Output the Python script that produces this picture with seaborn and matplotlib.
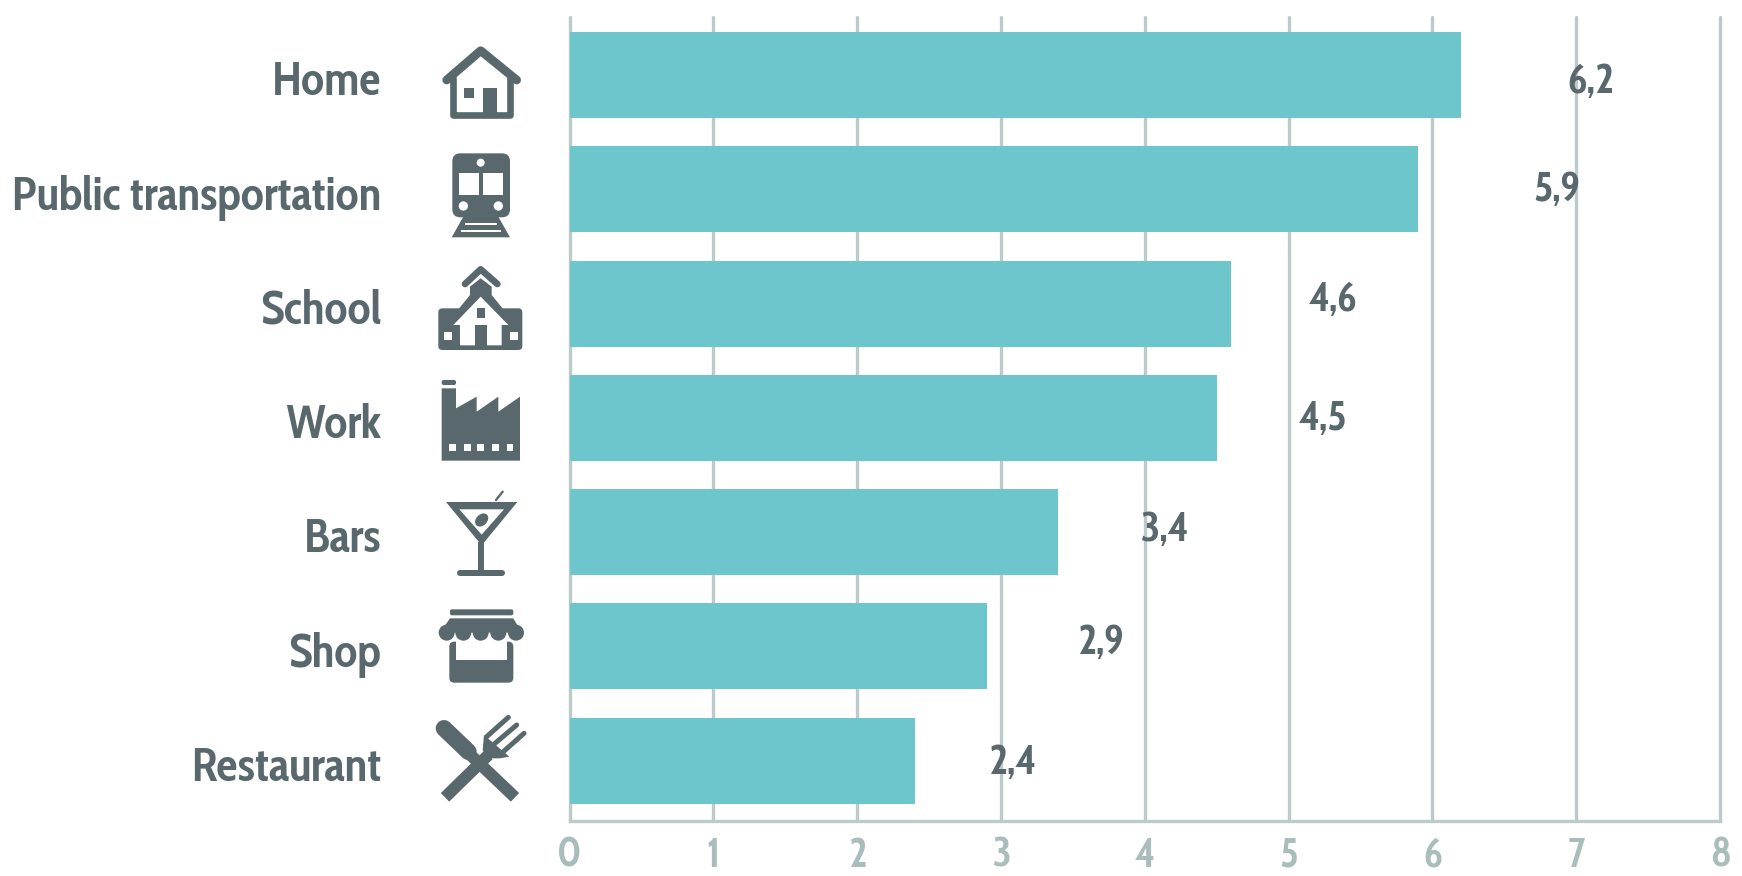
import matplotlib
matplotlib.use('Agg')
import matplotlib.pyplot as plt
from matplotlib.patches import Polygon, Circle, Ellipse, FancyBboxPatch
from matplotlib.transforms import ScaledTranslation
import seaborn as sns
import pandas as pd

places = ['Home', 'Public transportation', 'School', 'Work', 'Bars', 'Shop', 'Restaurant']
values = [6.2, 5.9, 4.6, 4.5, 3.4, 2.9, 2.4]
value_labels = ['6,2', '5,9', '4,6', '4,5', '3,4', '2,9', '2,4']
x_ticks = [0, 1, 2, 3, 4, 5, 6, 7, 8]

# value labels float loosely right of the bars in the original (pixels)
label_dx = [130, 139, 102, 106, 106, 114, 97]
label_dy = [-8, -1, 3, -2, 2, 3, -3]

W, H = 1742, 876
TEAL = '#6cc6cc'
DARK = '#59686d'
GRID = '#bccaca'
TICK = '#a9bdbd'
FONT = ['Cabin Condensed', 'Lato', 'DejaVu Sans']

sns.set_theme(style='white')
plt.rcParams['font.family'] = FONT

df = pd.DataFrame({'place': places, 'value': values})

fig = plt.figure(figsize=(W / 100, H / 100), dpi=100, facecolor='white')
ax = fig.add_axes([569.5 / W, 1 - 820.5 / H, (1720 - 569.5) / W, (820.5 - 17) / H])
ax.set_axisbelow(True)
sns.barplot(data=df, y='place', x='value', orient='h', color=TEAL, saturation=1, width=0.752,
            linewidth=0, ax=ax)

ax.set_xlim(0, 8)
ax.set_ylim(6.523, -0.507)
ax.set_xticks(x_ticks)
ax.set_xlabel('')
ax.set_ylabel('')
ax.grid(axis='x', color=GRID, lw=2.4, clip_on=False)
for s in ['top', 'right', 'left']:
    ax.spines[s].set_visible(False)
ax.spines['bottom'].set_color(GRID)
ax.spines['bottom'].set_linewidth(2.4)
ax.tick_params(axis='y', length=0, pad=135.5, labelsize=34, labelcolor=DARK)
ax.tick_params(axis='x', length=0, pad=11, labelsize=29, labelcolor=TICK)
for t in ax.get_yticklabels() + ax.get_xticklabels():
    t.set_fontweight('bold')
nudge = ScaledTranslation(0, -2 / 72, fig.dpi_scale_trans)
for t in ax.get_yticklabels():
    t.set_transform(t.get_transform() + nudge)

for i, v in enumerate(values):
    ax.annotate(value_labels[i], (v, i), xytext=(label_dx[i] * 0.72, label_dy[i] * 0.72),
                textcoords='offset points', ha='center', va='center',
                fontsize=30, fontweight='bold', color=DARK)

# overlay in picture pixels for the icons
ov = fig.add_axes([0, 0, 1, 1], facecolor='none')
ov.set_xlim(0, W)
ov.set_ylim(H, 0)
ov.axis('off')


def px(p, oy):
    return (420 + p[0] / 3, oy + p[1] / 3)


def poly(pts, oy=0, c=DARK):
    ov.add_patch(Polygon([px(p, oy) for p in pts], closed=True, fc=c, ec='none'))


def rect(x0, y0, x1, y1, oy=0, c=DARK):
    poly([(x0, y0), (x1, y0), (x1, y1), (x0, y1)], oy, c)


def rrect(x0, y0, x1, y1, oy=0, c=DARK, r=4):
    a = px((x0, y0), oy)
    b = px((x1, y1), oy)
    ov.add_patch(FancyBboxPatch((a[0] + r, a[1] + r), b[0] - a[0] - 2 * r, b[1] - a[1] - 2 * r,
                                boxstyle='round,pad=%d' % r, fc=c, ec='none'))


def stroke(pts, w, oy=0, c=DARK, cap='round'):
    xy = [px(p, oy) for p in pts]
    ov.plot([p[0] for p in xy], [p[1] for p in xy], color=c, lw=w * 0.24,
            solid_capstyle=cap, solid_joinstyle='round')


def dot(x, y, r, oy=0, c=DARK):
    ov.add_patch(Circle(px((x, y), oy), r / 3, fc=c, ec='none'))


# house
stroke([(80, 240), (182, 152), (290, 240)], 26)
stroke([(100, 235), (100, 345), (270, 345), (270, 235)], 20)
rect(190, 265, 232, 350)
rect(133, 265, 163, 293)

# train
rrect(97, 460, 270, 652, r=8)
rect(118, 518, 178, 585, c='white')
rect(190, 518, 250, 585, c='white')
dot(182, 488, 12, c='white')
dot(130, 618, 14, c='white')
dot(235, 618, 14, c='white')
poly([(130, 650), (235, 650), (270, 712), (95, 712)])
stroke([(135, 672), (230, 672)], 6, c='white', cap='butt')
stroke([(122, 692), (243, 692)], 6, c='white', cap='butt')

# school
stroke([(135, 852), (182, 808), (232, 852)], 20)
rrect(55, 925, 307, 1050, r=4)
poly([(85, 965), (150, 885), (150, 860), (182, 835), (215, 860), (215, 885), (280, 965)])
poly([(100, 975), (182, 890), (265, 975), (245, 975), (245, 1036), (120, 1036), (120, 975)], c='white')
rect(170, 925, 195, 955)
rect(165, 975, 200, 1040)
rect(72, 995, 95, 1020, c='white')
rect(270, 995, 295, 1020, c='white')

# factory
rrect(65, 1140, 108, 1155, r=2)
poly([(65, 1165), (108, 1165), (108, 1225), (170, 1190), (170, 1235), (235, 1190), (235, 1235),
      (300, 1190), (300, 1382), (65, 1382)])
for x in [97, 142, 182, 227, 270]:
    rect(x - 10, 1331, x + 10, 1352, c='white')

# martini
poly([(78, 186), (292, 186), (185, 316)], 440)
poly([(118, 208), (252, 208), (185, 284)], 440, c='white')
ov.add_patch(Ellipse(px((185, 240), 440), 15, 11, angle=-45, fc=DARK, ec='none'))
stroke([(228, 180), (248, 155)], 7, 440)
stroke([(182, 305), (182, 395)], 18, 440, cap='butt')
stroke([(120, 398), (246, 398)], 18, 440)

# shop
rrect(90, 508, 280, 526, 440, r=2)
poly([(90, 535), (280, 535), (305, 578), (60, 578)], 440)
rrect(88, 605, 280, 728, 440, r=5)
rect(108, 600, 262, 660, 440, c='white')
for x in [80, 130, 182, 235, 288]:
    dot(x, 578, 24, 440)

# restaurant
stroke([(72, 865), (145, 935)], 50, 440)
stroke([(120, 915), (285, 1072)], 36, 440, cap='butt')
stroke([(75, 1072), (205, 945)], 36, 440, cap='butt')
poly([(192, 885), (268, 950), (240, 955), (205, 955), (188, 930)], 440)
stroke([(200, 890), (265, 832)], 15, 440)
stroke([(225, 910), (290, 855)], 15, 440)
stroke([(250, 935), (312, 880)], 15, 440)

fig.savefig('out.png', dpi=100, facecolor='white')
